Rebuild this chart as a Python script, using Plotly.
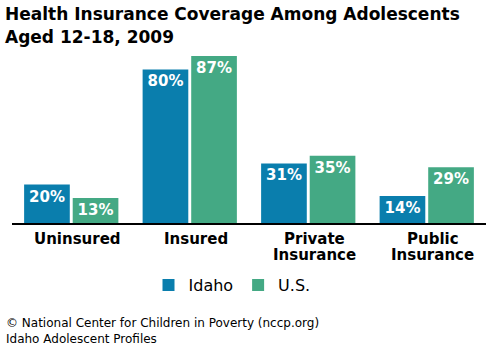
import plotly.graph_objects as go

categories = ["Uninsured", "Insured", "Private Insurance", "Public Insurance"]
category_lines = [["Uninsured"], ["Insured"], ["Private", "Insurance"], ["Public", "Insurance"]]
idaho = [20, 80, 31, 14]
us = [13, 87, 35, 29]
series_names = ["Idaho", "U.S."]
colors = ["#0A7EAD", "#44A984"]
title_lines = ["Health Insurance Coverage Among Adolescents", "Aged 12-18, 2009"]
footer = "© National Center for Children in Poverty (nccp.org)<br>Idaho Adolescent Profiles"

W, H = 498, 348
L, R, T, B = 12, 12, 40, 125
plot_h = H - T - B
plot_w = W - L - R
base_y = H - B
px_per_pct = 1.92


def py(ypix):
    return (base_y - ypix) / plot_h


def px(xpix):
    return (xpix - L) / plot_w


fig = go.Figure()
for name, vals, col in zip(series_names, [idaho, us], colors):
    fig.add_trace(go.Bar(
        x=categories, y=vals, name=name, marker=dict(color=col, line=dict(width=0)),
        text=[f"{v}%" for v in vals], textposition="inside", insidetextanchor="end",
        textangle=0, textfont=dict(family="DejaVu Sans", size=15, color="white", weight="bold"),
        cliponaxis=False,
    ))

annotations = []
for i, line in enumerate(title_lines):
    annotations.append(dict(text=line, xref="paper", yref="paper", x=px(3), y=py(2 + i * 22.7),
                            xanchor="left", yanchor="top", showarrow=False,
                            font=dict(family="DejaVu Sans", size=17, color="black", weight="bold")))
for cat, lines in zip(categories, category_lines):
    for j, line in enumerate(lines):
        annotations.append(dict(text=line, xref="x", yref="paper", x=cat, xshift=6,
                                y=py(228 + j * 16), xanchor="center", yanchor="top", showarrow=False,
                                font=dict(family="DejaVu Sans", size=15, color="black", weight="bold")))
annotations.append(dict(text=footer, xref="paper", yref="paper", x=px(4), y=py(314),
                        xanchor="left", yanchor="top", align="left", showarrow=False,
                        font=dict(family="DejaVu Sans", size=12, color="black")))

fig.update_layout(
    width=W, height=H, margin=dict(l=L, r=R, t=T, b=B),
    paper_bgcolor="white", plot_bgcolor="white",
    barmode="group", bargap=0.18, bargroupgap=0.06,
    showlegend=True,
    legend=dict(orientation="h", x=px(232), xanchor="center",
                y=py(268), yanchor="top",
                font=dict(family="DejaVu Sans", size=16, color="black"),
                itemsizing="constant"),
    xaxis=dict(showline=True, linecolor="black", linewidth=2, ticks="",
               showticklabels=False, showgrid=False, zeroline=False, fixedrange=True),
    yaxis=dict(visible=False, range=[0, plot_h / px_per_pct], fixedrange=True),
    annotations=annotations,
)

fig.write_html("out.html")
